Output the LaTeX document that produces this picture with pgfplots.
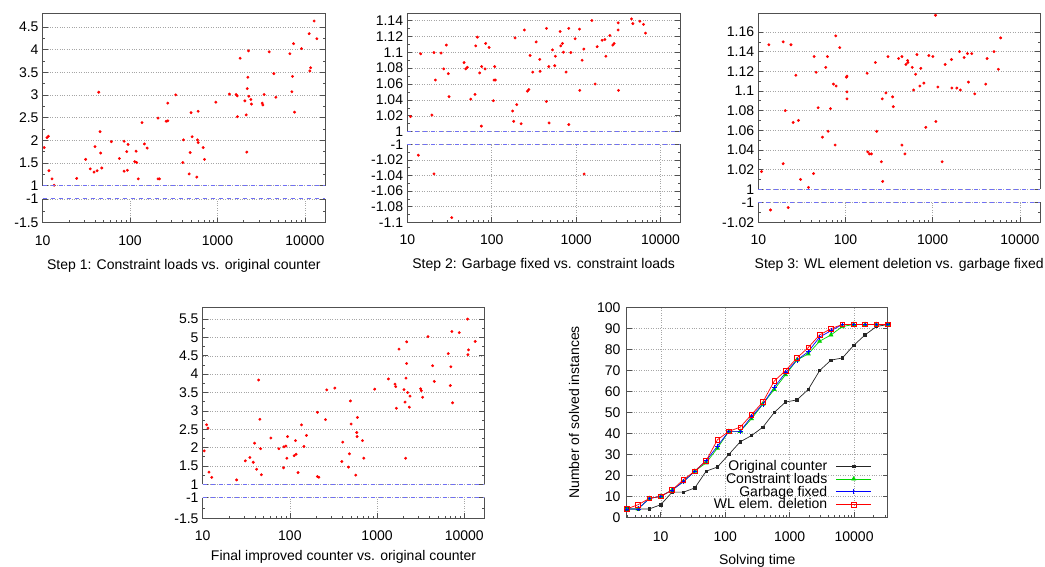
\documentclass[border=0pt]{standalone}
\usepackage{fontspec}
\setmainfont{Liberation Sans}
\usepackage{pgfplots}
\pgfplotsset{compat=1.18}

\definecolor{ptred}{HTML}{FF0000}
\definecolor{brkblue}{HTML}{7070F4}
\definecolor{frm}{HTML}{505050}
\definecolor{cgreen}{HTML}{00D400}

\newcommand{\lblfont}{\fontsize{14}{16}\selectfont}

\tikzset{
  pframe/.style={frm, line width=0.7pt},
  pbrk/.style={brkblue, line width=1pt, dash pattern=on 4pt off 4pt},
}
\pgfplotsset{
  sbase/.style={scale only axis, anchor=south west,
    tick align=inside, ytick pos=both, xtick pos=left,
    grid style={dotted, black!35, line width=0.5pt},
    major tick length=5pt, minor tick length=2.5pt,
    tick style={frm, line width=0.6pt},
    ticklabel style={font=\lblfont},
    label style={font=\lblfont},
    yticklabel style={xshift=-0.7pt}},
  spanel/.style={sbase, xmin=10, xmax=17000, minor y tick num=1,
    axis line style={draw=none}, clip mode=individual},
  supper/.style={spanel, xtick=\empty, ymajorgrids},
  slower/.style={spanel, xtick={10,100,1000,10000}, xticklabels={10,100,1000,10000},
    minor xtick={20,30,40,50,60,70,80,90,200,300,400,500,600,700,800,900,2000,3000,4000,5000,6000,7000,8000,9000},
    xmajorgrids, ymajorgrids, xticklabel style={yshift=-9pt},
    xlabel style={at={(axis description cs:0.5,0)}, anchor=center, yshift=-43pt}},
  spts/.style={only marks, mark=*, mark size=1.25pt, color=ptred},
}
\newcommand{\upframe}{%
  \draw[pframe] (rel axis cs:0,0) -- (rel axis cs:0,1) -- (rel axis cs:1,1) -- (rel axis cs:1,0);
  \draw[pbrk] (rel axis cs:0,0) -- (rel axis cs:1,0);}
\newcommand{\lowframe}{%
  \draw[pframe] (rel axis cs:0,1) -- (rel axis cs:0,0) -- (rel axis cs:1,0) -- (rel axis cs:1,1);
  \draw[pbrk] (rel axis cs:0,1) -- (rel axis cs:1,1);}

\begin{document}
\begin{tikzpicture}
\useasboundingbox (0,0) rectangle (1045pt,567pt);

% ---------- Step 1 ----------
\begin{semilogxaxis}[supper, at={(42.7pt,381.3pt)}, width=282.3pt, height=172.4pt,
    ymin=1, ymax=4.8, ytick={1,1.5,2,2.5,3,3.5,4,4.5},
    yticklabels={1,1.5,2,2.5,3,3.5,4,4.5}]
\addplot[spts] table {
10.4 1.84
11.2 2.06
11.6 2.09
11.8 1.33
12.8 1.15
13.5 1.01
24.5 1.16
31 1.58
35 1.37
38.7 1.30
39.7 1.86
41.9 1.33
43.8 3.06
45.3 2.19
46.1 1.72
47.4 1.39
61 1.97
75.5 1.60
85.4 1.98
85.4 1.32
91.6 1.75
93 1.34
94.8 1.91
113 1.53
117 1.76
119 1.51
124 1.15
137 2.39
146 1.92
157 1.83
209 2.49
209 1.15
217 1.15
258 2.42
270 2.43
270 2.82
333 3.00
401 1.51
408 2.01
474 1.26
487 1.73
499 2.61
513 2.08
580 1.19
590 2.01
601 1.95
601 2.64
686 1.84
710 1.58
957 2.84
1371 3.02
1636 3.01
1680 2.98
1694 2.52
1818 3.81
2058 2.87
2130 2.56
2168 1.74
2188 3.14
2225 3.39
2264 3.97
2286 2.97
2410 2.90
2450 2.80
3246 2.82
3305 2.78
3423 3.01
3905 3.95
4418 3.47
4660 2.95
6735 3.91
7101 3.07
7233 3.41
7420 4.13
7621 2.62
9160 4.02
11210 4.35
11400 3.53
11620 3.60
12790 4.63
13720 4.24
};
\upframe
\end{semilogxaxis}
\begin{semilogxaxis}[slower, at={(42.7pt,344.3pt)}, width=282.3pt, height=23.7pt,
    ymin=-1.5, ymax=-1, ytick={-1.5,-1}, yticklabels={-1.5,-1},
    xlabel={Step 1: Constraint loads vs. original counter}]
\lowframe
\end{semilogxaxis}

% ---------- Step 2 ----------
\begin{semilogxaxis}[supper, at={(407.3pt,435.3pt)}, width=272.7pt, height=118.4pt,
    ymin=1, ymax=1.149, ytick={1,1.02,1.04,1.06,1.08,1.1,1.12,1.14},
    yticklabels={1,1.02,1.04,1.06,1.08,1.1,1.12,1.14}]
\addplot[spts] table {
10.9 1.019
14.4 1.098
20.7 1.0996
19.6 1.021
21.5 1.065
25.1 1.099
27 1.079
29 1.109
30.6 1.073
31.2 1.044
47 1.087
49.2 1.079
51.4 1.081
56.4 1.041
63.4 1.047
64.6 1.108
67.6 1.119
72 1.074
75.4 1.007
76.1 1.082
83.4 1.079
84.9 1.111
93 1.106
104.7 1.039
106.6 1.065
110.5 1.065
108.6 1.082
177 1.026
182 1.013
189 1.118
198 1.034
223 1.010
244 1.128
265 1.051
275 1.053
285 1.096
306 1.075
336 1.113
371 1.091
374 1.076
445 1.130
445 1.038
474 1.082
478 1.011
524 1.103
558 1.083
568 1.095
646 1.126
658 1.108
689 1.111
708 1.100
761 1.075
818 1.130
818 1.009
865 1.0996
973 1.117
1096 1.129
1105 1.052
1178 1.090
1233 1.104
1535 1.140
1680 1.060
1774 1.107
2033 1.115
2188 1.116
2249 1.095
2507 1.121
2721 1.109
2823 1.111
3148 1.137
3148 1.128
3178 1.052
4533 1.142
4699 1.136
5688 1.139
6285 1.135
6640 1.124
};
\upframe
\end{semilogxaxis}
\begin{semilogxaxis}[slower, at={(407.3pt,344.7pt)}, width=272.7pt, height=78pt,
    ymin=-1.1, ymax=-1, ytick={-1.1,-1.08,-1.06,-1.04,-1.02,-1},
    yticklabels={-1.1,-1.08,-1.06,-1.04,-1.02,-1},
    xlabel={Step 2: Garbage fixed vs. constraint loads}]
\addplot[spts] table {
13.5 -1.014
20.7 -1.038
33.6 -1.094
1244 -1.038
};
\lowframe
\end{semilogxaxis}

% ---------- Step 3 ----------
\begin{semilogxaxis}[supper, at={(758.3pt,377.7pt)}, width=281.7pt, height=176pt,
    ymin=1, ymax=1.179, ytick={1,1.02,1.04,1.06,1.08,1.1,1.12,1.14,1.16},
    yticklabels={1,1.02,1.04,1.06,1.08,1.1,1.12,1.14,1.16}]
\addplot[spts] table {
10.9 1.018
13.2 1.147
19.3 1.150
19.3 1.026
20.4 1.080
23.7 1.147
25.1 1.068
27 1.116
28.9 1.070
30.5 1.010
37.6 1.002
43 1.016
43.7 1.135
46 1.119
48.5 1.083
54.4 1.053
59.4 1.124
62.1 1.135
63.2 1.059
67.2 1.082
72.7 1.107
76 1.045
77.3 1.156
78 1.105
85.9 1.144
102.3 1.114
104 1.115
104 1.099
104 1.092
177 1.118
180 1.038
188 1.036
198 1.036
220 1.129
228 1.059
258 1.028
264 1.092
267 1.008
291 1.098
307 1.135
347 1.094
353 1.084
406 1.133
444 1.135
444 1.045
480 1.036
493 1.127
515 1.131
520 1.129
582 1.124
603 1.101
636 1.117
659 1.137
713 1.105
731 1.123
792 1.108
834 1.063
903 1.136
1004 1.135
1077 1.177
1087 1.069
1146 1.104
1284 1.028
1389 1.127
1642 1.132
1656 1.103
1889 1.103
2027 1.140
2080 1.101
2291 1.134
2501 1.138
2567 1.109
2804 1.138
3034 1.097
4053 1.107
4198 1.133
5047 1.140
5662 1.122
6014 1.154
};
\upframe
\end{semilogxaxis}
\begin{semilogxaxis}[slower, at={(758.3pt,344.7pt)}, width=281.7pt, height=20pt,
    ymin=-1.02, ymax=-1, ytick={-1.02,-1}, yticklabels={-1.02,-1},
    xlabel={Step 3: WL element deletion vs. garbage fixed}]
\addplot[spts] table {
13.8 -1.0077
22 -1.0053
};
\lowframe
\end{semilogxaxis}

% ---------- Final ----------
\begin{semilogxaxis}[supper, at={(202.7pt,82.7pt)}, width=281.6pt, height=177pt,
    ymin=1, ymax=5.82, ytick={1,1.5,2,2.5,3,3.5,4,4.5,5,5.5},
    yticklabels={1,1.5,2,2.5,3,3.5,4,4.5,5,5.5}]
\addplot[spts] table {
10.4 1.91
11.1 2.62
11.5 2.53
11.8 1.33
12.7 1.19
24.5 1.12
30.8 1.64
34.8 1.73
38 1.60
39.4 2.12
41.5 1.41
43.8 3.84
45.3 2.77
46.1 1.97
47 1.26
60.5 2.26
74.8 1.97
84.6 1.45
85.4 2.02
90 2.04
92.5 1.71
94 2.30
112 1.78
116 2.19
118 1.82
124 1.32
136 2.62
145 2.03
155 2.33
207 2.96
207 1.21
215 1.19
256 2.76
265 3.57
328 3.62
394 1.62
404 2.15
470 1.47
482 1.83
495 3.27
504 2.64
570 1.25
585 2.41
590 2.30
596 2.82
680 2.19
704 1.71
940 3.59
1349 3.87
1607 3.73
1636 3.66
1665 3.07
1786 4.68
2037 3.58
2094 3.24
2130 1.71
2148 3.89
2188 4.88
2188 4.29
2245 3.50
2345 3.10
2388 3.40
3164 3.60
3222 3.55
3336 3.37
3839 5.02
4339 4.23
4533 3.80
6563 4.56
6918 3.69
7036 4.20
7227 5.16
7346 3.22
8770 5.13
10910 5.50
11020 4.53
11210 4.66
13370 4.89
};
\upframe
\end{semilogxaxis}
\begin{semilogxaxis}[slower, at={(202.7pt,48.7pt)}, width=281.6pt, height=20.6pt,
    ymin=-1.5, ymax=-1, ytick={-1.5,-1}, yticklabels={-1.5,-1},
    xlabel style={yshift=4.5pt},
    xlabel={Final improved counter vs. original counter}]
\lowframe
\end{semilogxaxis}

% ---------- Solving time ----------
\begin{semilogxaxis}[sbase, at={(626.7pt,49.7pt)}, width=261pt, height=209.6pt,
    xmin=2.963, xmax=33253, ymin=0, ymax=100,
    /pgf/number format/assume math mode=true,
    axis line style={frm, line width=0.7pt},
    ytick={0,10,20,30,40,50,60,70,80,90,100},
    xtick={10,100,1000,10000}, xticklabels={10,100,1000,10000},
    minor xtick={3,4,5,6,7,8,9,20,30,40,50,60,70,80,90,200,300,400,500,600,700,800,900,2000,3000,4000,5000,6000,7000,8000,9000,20000,30000},
    grid=major, xticklabel style={yshift=-11pt}, yticklabel style={xshift=-2pt},
    xlabel={Solving time}, ylabel={Number of solved instances},
    xlabel style={at={(axis description cs:0.5,0)}, anchor=center, yshift=-43.4pt},
    ylabel style={at={(axis description cs:0,0.5)}, anchor=center, rotate=0, yshift=52.7pt},
    legend plot pos=right, legend cell align=right,
    legend image code/.code={\draw[mark repeat=2,mark phase=2,#1] plot coordinates {(0pt,0pt) (17.5pt,0pt) (35pt,0pt)};},
    legend style={at={(axis description cs:0.939,0.029)}, anchor=south east,
      draw=none, fill=none, inner sep=0pt, font=\lblfont, column sep=8pt,
      nodes={inner sep=0.6pt}}]
\addplot[black!85, line width=0.7pt, mark=square*, mark size=1.2pt] table {
2.963 4
4.444 4
6.667 4
10 6
15 12
22.5 12
33.75 14
50.63 22
75.94 24
113.9 30
170.9 36
256.3 39
384.4 43
576.7 50
865 55
1297.5 56
1946.2 61
2919.3 70
4379 75
6568.4 76
9852.7 82
14779 87
22168 91
33253 92
};
\addlegendentry{Original counter}
\addplot[cgreen, line width=0.7pt, mark=triangle*, mark size=2.2pt] table {
2.963 4
4.444 4
6.667 9
10 10
15 13
22.5 17
33.75 22
50.63 26
75.94 33
113.9 41
170.9 41
256.3 47
384.4 54
576.7 61
865 68
1297.5 75
1946.2 78
2919.3 84
4379 87
6568.4 91
9852.7 92
14779 92
22168 92
33253 92
};
\addlegendentry{Constraint loads}
\addplot[blue, line width=0.7pt, mark=+, mark size=2.5pt] table {
2.963 4
4.444 4
6.667 9
10 10
15 13
22.5 17
33.75 22
50.63 27
75.94 34
113.9 41
170.9 41
256.3 48
384.4 54
576.7 62
865 69
1297.5 75
1946.2 79
2919.3 86
4379 89
6568.4 92
9852.7 92
14779 92
22168 92
33253 92
};
\addlegendentry{Garbage fixed}
\addplot[ptred, line width=0.7pt, mark=square, mark size=2.3pt] table {
2.963 4
4.444 6
6.667 9
10 10
15 13
22.5 18
33.75 22
50.63 27
75.94 37
113.9 41
170.9 43
256.3 49
384.4 55
576.7 65
865 70
1297.5 76
1946.2 81
2919.3 87
4379 90
6568.4 92
9852.7 92
14779 92
22168 92
33253 92
};
\addlegendentry{WL elem. deletion}
\end{semilogxaxis}
\end{tikzpicture}
\end{document}
